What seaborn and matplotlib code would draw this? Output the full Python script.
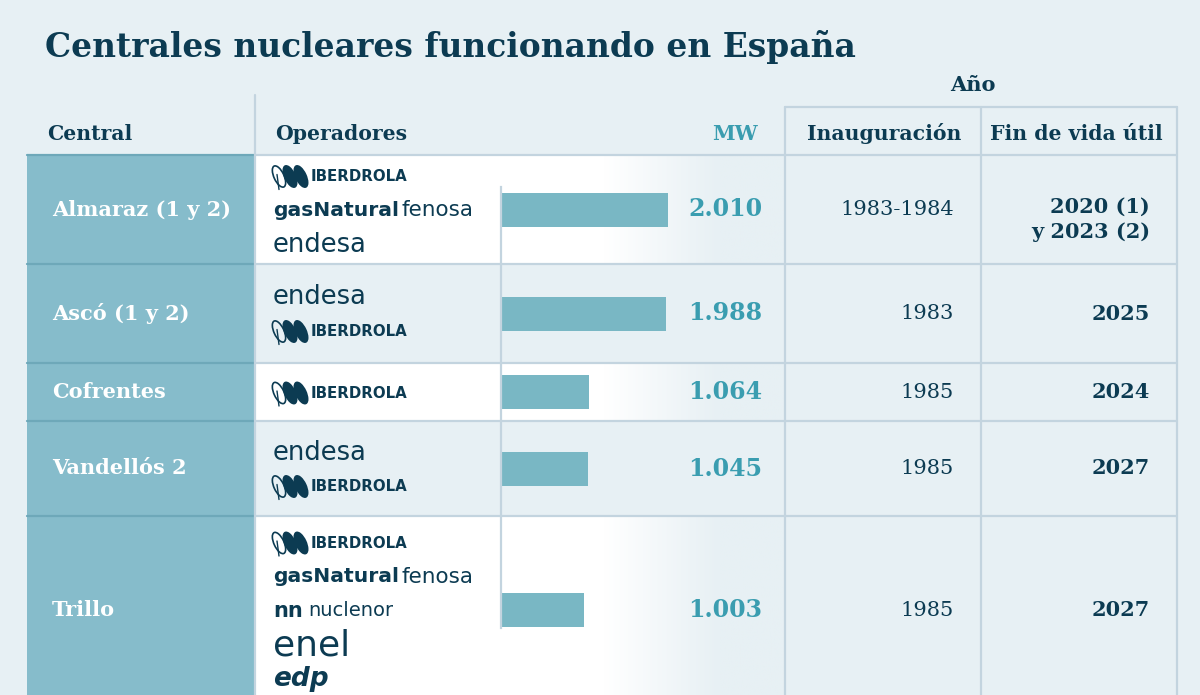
import matplotlib
matplotlib.use("Agg")
import matplotlib.pyplot as plt
from matplotlib.patches import Rectangle, Ellipse
import numpy as np
import pandas as pd
import seaborn as sns

# datos de la tabla
centrales = ["Almaraz (1 y 2)", "Ascó (1 y 2)", "Cofrentes", "Vandellós 2", "Trillo"]
potencia_mw = [2010, 1988, 1064, 1045, 1003]
inauguracion = ["1983-1984", "1983", "1985", "1985", "1985"]
fin_vida_util = ["2020 (1)\ny 2023 (2)", "2025", "2024", "2027", "2027"]
operadores = [
    ["IBERDROLA", "gasNatural fenosa", "endesa"],
    ["endesa", "IBERDROLA"],
    ["IBERDROLA"],
    ["endesa", "IBERDROLA"],
    ["IBERDROLA", "gasNatural fenosa", "nuclenor", "enel", "edp"],
]

titulo = "Centrales nucleares funcionando en España"
cabeceras = ["Central", "Operadores", "MW", "Inauguración", "Fin de vida útil"]
cabecera_anio = "Año"

# colores
BG = "#e7f0f4"
NAVY = "#0c3b52"
TEAL = "#86bccb"
TEAL_DARK = "#6ea8b9"
LINE = "#c3d4df"
BAR = "#79b7c4"
VALUE = "#3a9db0"
SERIF = "DejaVu Serif"
SANS = "DejaVu Sans"

# maqueta en pixeles
W, H = 1200, 695
row_edges = [155, 264, 363, 421, 516, 704]
white_rows = [0, 2, 4]
bar_top, bar_bottom = 187, 628
bar_left, bar_right = 501, 700
bar_px = 34
px_per_max = 167


def draw_iberdrola(ax, x, y):
    for k, dx in enumerate([6, 17, 28]):
        ax.add_patch(Ellipse((x + dx, y), 10, 23, angle=-25,
                             facecolor="none" if k == 0 else NAVY,
                             edgecolor=NAVY, lw=1.2))
    ax.plot([x + 4, x + 6], [y - 2, y + 13], color=NAVY, lw=1)
    ax.text(x + 38, y, "IBERDROLA", fontsize=10.8, fontweight="bold",
            family=SANS, color=NAVY, va="center", ha="left")


def draw_logo(ax, name, x, y):
    if name == "IBERDROLA":
        draw_iberdrola(ax, x, y)
    elif name == "gasNatural fenosa":
        ax.text(x, y, "gasNatural", fontsize=14.6, fontweight="bold",
                family=SANS, color=NAVY, va="center", ha="left")
        ax.text(x + 129, y, "fenosa", fontsize=15.5, family=SANS,
                color=NAVY, va="center", ha="left")
    elif name == "endesa":
        ax.text(x, y, "endesa", fontsize=18.5, family=SANS,
                color=NAVY, va="center", ha="left")
    elif name == "nuclenor":
        ax.text(x, y, "nn", fontsize=15, fontweight="bold", family=SANS,
                color=NAVY, va="center", ha="left")
        ax.text(x + 35, y, "nuclenor", fontsize=14, family=SANS,
                color=NAVY, va="center", ha="left")
    elif name == "enel":
        ax.text(x, y, "enel", fontsize=26, family=SANS, color=NAVY,
                va="center", ha="left")
    elif name == "edp":
        ax.text(x, y, "edp", fontsize=19, family=SANS, fontweight="bold",
                style="italic", color=NAVY, va="center", ha="left")


def plot_tabla(salvar_arquivo="out.png"):
    sns.set_theme(style="white")
    plt.rcParams["font.family"] = [SERIF, "DejaVu Sans"]

    fig = plt.figure(figsize=(W / 100, H / 100), dpi=100)
    fig.patch.set_facecolor(BG)
    ax = fig.add_axes([0, 0, 1, 1])
    ax.set_facecolor(BG)

    centers = [(row_edges[i] + row_edges[i + 1]) / 2 for i in range(len(centrales))]
    centers[-1] = 610

    # fondo degradado blanco en filas alternas
    grad = np.ones((1, 256, 3))
    xs = np.linspace(255, 785, 256)
    t = np.clip((xs - 605) / (720 - 605), 0, 1)
    bg_rgb = np.array(matplotlib.colors.to_rgb(BG))
    grad[0] = (1 - t)[:, None] * 1.0 + t[:, None] * bg_rgb
    for i in white_rows:
        ax.imshow(grad, extent=(255, 785, row_edges[i + 1], row_edges[i]),
                  aspect="auto", zorder=1)

    # columna de centrales
    ax.add_patch(Rectangle((27, 155), 228, row_edges[-1] - 155,
                           facecolor=TEAL, edgecolor="none", zorder=2))
    for e in row_edges[:-1]:
        ax.plot([27, 255], [e, e], color=TEAL_DARK, lw=1.6, zorder=3)
        ax.plot([255, 1177], [e, e], color=LINE, lw=1.6, zorder=3)
    ax.plot([255, 255], [95, H], color=LINE, lw=1.6, zorder=3)
    for xv in [785, 981, 1177]:
        ax.plot([xv, xv], [107, H], color=LINE, lw=1.6, zorder=3)
    ax.plot([785, 1177], [107, 107], color=LINE, lw=1.6, zorder=3)

    # textos
    ax.text(45, 57, titulo, fontsize=23.7, fontweight="bold", color=NAVY,
            ha="left", va="baseline")
    ax.text(973, 91, cabecera_anio, fontsize=15, fontweight="bold",
            color=NAVY, ha="center", va="baseline")
    header_x = [(47, "left"), (275, "left"), (758, "right"),
                (884, "center"), (1076, "center")]
    for (hx, ha), txt in zip(header_x, cabeceras):
        ax.text(hx, 140, txt, fontsize=14.7, fontweight="bold",
                color=VALUE if txt == "MW" else NAVY, ha=ha, va="baseline")

    for i, nombre in enumerate(centrales):
        cy = centers[i]
        ax.text(52, cy, nombre, fontsize=15, fontweight="bold",
                color="white", ha="left", va="center", zorder=4)
        ax.text(762, cy, f"{potencia_mw[i]:,}".replace(",", "."),
                fontsize=17, fontweight="bold", color=VALUE,
                ha="right", va="center", zorder=4)
        ax.text(954, cy, inauguracion[i], fontsize=15, color=NAVY,
                ha="right", va="center", zorder=4)
        fin = fin_vida_util[i]
        ax.text(1150, cy + (10 if "\n" in fin else 0), fin, fontsize=15,
                fontweight="bold", color=NAVY, ha="right", va="center",
                multialignment="right", linespacing=1.3, zorder=4)

        ops = operadores[i]
        n = len(ops)
        for k, op in enumerate(ops):
            oy = cy + 1 + (k - (n - 1) / 2) * 34
            draw_logo(ax, op, 273, oy)

    ax.set_xlim(0, W)
    ax.set_ylim(H, 0)
    ax.axis("off")

    # barras de potencia
    ax_bar = fig.add_axes([bar_left / W, 1 - bar_bottom / H,
                           (bar_right - bar_left) / W, (bar_bottom - bar_top) / H])
    df = pd.DataFrame({"central": centrales, "mw": potencia_mw, "y": centers})
    spacing = np.diff(np.sort(df["y"].values)).min()
    sns.barplot(data=df, x="mw", y="y", orient="y", native_scale=True,
                width=bar_px / spacing, color=BAR, saturation=1,
                linewidth=0, errorbar=None, ax=ax_bar)
    ax_bar.set_xlim(0, max(potencia_mw) * (bar_right - bar_left) / px_per_max)
    ax_bar.set_ylim(bar_bottom, bar_top)
    ax_bar.set_facecolor("none")
    ax_bar.set_xlabel("")
    ax_bar.set_ylabel("")
    ax_bar.set_xticks([])
    ax_bar.set_yticks([])
    for s in ["top", "right", "bottom"]:
        ax_bar.spines[s].set_visible(False)
    ax_bar.spines["left"].set_color(LINE)
    ax_bar.spines["left"].set_linewidth(1.6)

    fig.savefig(salvar_arquivo, dpi=100, facecolor=BG)
    plt.close(fig)


if __name__ == "__main__":
    plot_tabla("out.png")
